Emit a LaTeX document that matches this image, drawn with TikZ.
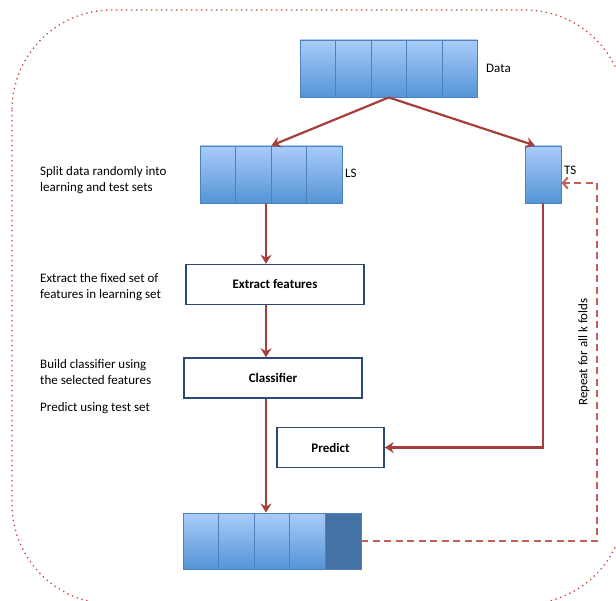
\documentclass[tikz,border=0pt]{standalone}
\usepackage{fontspec}
\setmainfont{Carlito}
\usetikzlibrary{arrows.meta}
\definecolor{arrowred}{RGB}{166,62,58}
\definecolor{dashred}{RGB}{196,96,92}
\definecolor{dotred}{RGB}{200,70,66}
\definecolor{boxblue}{RGB}{40,74,116}
\definecolor{celltop}{RGB}{170,204,248}
\definecolor{cellbottom}{RGB}{84,148,214}
\definecolor{cellline}{RGB}{78,128,188}
\definecolor{celldark}{RGB}{68,114,164}
\tikzset{
  cell/.style = {rectangle, draw=cellline, line width=0.9pt,
    top color=celltop, bottom color=cellbottom,
    minimum width=35.5pt, minimum height=57pt, inner sep=0pt},
  lastcell/.style = {cell, top color=celldark, bottom color=celldark},
  stepbox/.style = {rectangle, draw=boxblue, line width=1.5pt, fill=white,
    minimum height=40pt, inner sep=0pt,
    font=\fontsize{13}{16}\selectfont\bfseries},
  note/.style = {align=left, anchor=west, inner sep=0pt},
  tag/.style = {anchor=west, inner sep=0pt},
  flow/.style = {->, draw=arrowred, line width=2.2pt},
  back/.style = {-{Straight Barb[length=5pt, width=11pt, line width=2pt]},
    draw=dashred, line width=1.5pt, dash pattern=on 7pt off 4.5pt},
  dotborder/.style = {draw=dotred, line width=1.3pt,
    dash pattern=on 1.3pt off 3.7pt, rounded corners=100pt}
}
\begin{document}
\begin{tikzpicture}[
        x=1pt, y=-1pt,
        >={Stealth[length=9pt, width=11pt, inset=3pt]},
        every node/.style={font=\fontsize{13}{16}\selectfont}
    ]
    \useasboundingbox (0,0) rectangle (616,601);
    \begin{scope}
        \clip (0,0) rectangle (616,601);
        \draw[dotborder] (12,10) rectangle (625,604);
    \end{scope}

    % data and its two parts
    \foreach \i in {1,...,5}
        \node[cell] (d\i) at ({300+35.5*(\i-0.5)}, 68.5) {};
    \node[tag] (datalbl) at (486,68) {Data};
    \foreach \i in {1,...,4}
        \node[cell] (l\i) at ({200+35.5*(\i-0.5)}, 174.5) {};
    \node[tag] (lslbl) at (345,173) {LS};
    \node[cell, minimum width=36pt] (ts) at (543,174.5) {};
    \node[tag] (tslbl) at (564,170) {TS};

    % steps
    \node[stepbox, minimum width=178pt] (ext) at (275,284.5) {Extract features};
    \node[stepbox, minimum width=178pt] (cls) at (273,378) {Classifier};
    \node[stepbox, minimum width=107pt] (pred) at (330.5,447.5) {Predict};

    % folds
    \foreach \i in {1,...,4}
        \node[cell, minimum width=35.6pt, minimum height=56pt] (b\i) at ({183+35.6*(\i-0.5)}, 541) {};
    \node[lastcell, minimum width=35.6pt, minimum height=56pt] (b5) at ({183+35.6*4.5}, 541) {};

    % notes on the left
    \node[note] (splittxt) at (40,180) {Split data randomly into\\learning and test sets};
    \node[note] (extrtxt) at (40,287) {Extract the fixed set of\\features in learning set};
    \node[note] (buildtxt) at (40,372) {Build classifier using\\the selected features};
    \node[note] (predtxt) at (40,408) {Predict using test set};
    \node[rotate=90, inner sep=0pt] (rpt) at (584,352) {Repeat for all k folds};

    \coordinate (spine) at (266,0);
    \coordinate (fold) at (597,0);

    \draw[flow] (d3.south) -- (l2.north east);
    \draw[flow] (d3.south) -- ([xshift=-8pt]ts.north);
    \draw[flow] (l2.south -| spine) -- (ext.north -| spine);
    \draw[flow] (ext.south -| spine) -- (cls.north -| spine);
    \draw[flow] (cls.south -| spine) -- (b3.north -| spine);
    \draw[flow] (ts.south) |- (pred.east);
    \draw[back] (b5.east) -| ([yshift=-8.5pt]ts.east -| fold) -- ([yshift=-8.5pt]ts.east);
\end{tikzpicture}
\end{document}
